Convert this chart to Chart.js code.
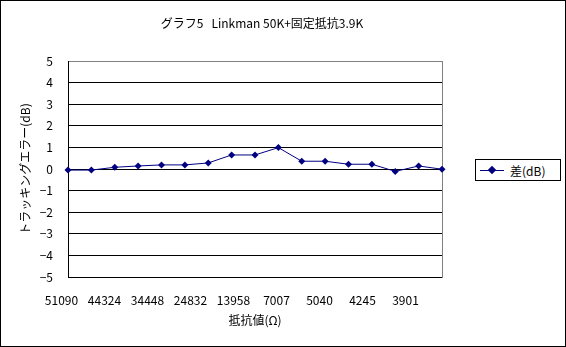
<!DOCTYPE html>
<html lang="ja">
<head>
    <meta charset="UTF-8">
    <title>グラフ5 Linkman 50K+固定抵抗3.9K</title>
    <script src="https://cdn.jsdelivr.net/npm/chart.js@4.4.0/dist/chart.umd.min.js"></script>
    <style>
        * { margin: 0; padding: 0; box-sizing: border-box; }
        body { background: #fff; font-family: 'Noto Sans CJK JP', sans-serif; }
        .wrap { position: relative; width: 566px; height: 347px; background: #fff; }
        .frame {
            position: absolute; left: 0; top: 0; width: 566px; height: 347px;
            border: 1px solid #000; pointer-events: none;
        }
        .legend {
            position: absolute; left: 475px; top: 159px; width: 86px; height: 22px;
            border: 1px solid #000; background: #fff;
            display: flex; align-items: center; font-size: 12px; color: #000;
        }
        .legend .sym { position: relative; width: 24px; height: 10px; margin-left: 4px; margin-right: 6px; }
        .legend .sym .ln { position: absolute; left: 0; right: 0; top: 5px; height: 1px; background: #000080; }
        .legend .sym .dm {
            position: absolute; left: 9px; top: 2px; width: 6px; height: 6px;
            background: #000080; transform: rotate(45deg);
        }
    </style>
</head>
<body>
<div class="wrap">
    <canvas id="chart" width="566" height="347"></canvas>
    <div class="legend"><div class="sym"><div class="ln"></div><div class="dm"></div></div><span id="legendText"></span></div>
    <div class="frame"></div>
</div>
<script>
    // data
    const seriesName = '差(dB)';
    const xTickLabels = ['51090', '44324', '34448', '24832', '13958', '7007', '5040', '4245', '3901'];
    const diffValues = [-0.05, -0.05, 0.08, 0.14, 0.19, 0.19, 0.28, 0.65, 0.65, 0.99, 0.36, 0.36, 0.22, 0.22, -0.11, 0.14, -0.01];
    const categories = diffValues.map((_, i) => i % 2 === 0 ? xTickLabels[i / 2] : '');

    document.getElementById('legendText').textContent = seriesName;

    const font = { family: "'Noto Sans CJK JP', sans-serif", size: 12, weight: 'normal' };

    // title centred a bit left of the canvas middle, like the original
    const titleShift = {
        id: 'titleShift',
        afterLayout(chart) {
            chart.titleBlock.left = 0;
            chart.titleBlock.right = chart.width - 42;
        }
    };

    new Chart(document.getElementById('chart'), {
        type: 'line',
        data: {
            labels: categories,
            datasets: [{
                label: seriesName,
                data: diffValues,
                borderColor: '#000080',
                backgroundColor: '#000080',
                borderWidth: 1,
                pointStyle: 'rectRot',
                pointRadius: 3.5,
                pointBorderWidth: 0,
                tension: 0,
                fill: false
            }]
        },
        options: {
            responsive: false,
            animation: false,
            layout: { padding: { left: 0, right: 124, top: 0, bottom: 0 } },
            plugins: {
                legend: { display: false },
                tooltip: { enabled: false },
                title: {
                    display: true,
                    text: 'グラフ5   Linkman 50K+固定抵抗3.9K',
                    color: '#000',
                    font: font,
                    padding: { top: 16, bottom: 30.6 }
                }
            },
            scales: {
                x: {
                    type: 'category',
                    offset: false,
                    ticks: { display: false },
                    grid: { display: false, drawTicks: false },
                    border: { display: true, color: '#000', width: 1 },
                    afterFit(scale) { scale.height = 0; }
                },
                xt: {
                    type: 'linear',
                    position: 'bottom',
                    min: 0.151,
                    max: 8.849,
                    afterBuildTicks(scale) {
                        scale.ticks = xTickLabels.map((_, i) => ({ value: i }));
                    },
                    ticks: {
                        autoSkip: false,
                        maxRotation: 0,
                        padding: 16,
                        color: '#000',
                        font: font,
                        callback: v => xTickLabels[v]
                    },
                    grid: { display: false, drawTicks: false },
                    border: { display: false },
                    title: {
                        display: true,
                        text: '抵抗値(Ω)',
                        color: '#000',
                        font: font,
                        padding: { top: 0, bottom: 19 }
                    },
                    afterFit(scale) { scale.height = 70; }
                },
                y: {
                    min: -5,
                    max: 5,
                    ticks: {
                        stepSize: 1,
                        padding: 15,
                        color: '#000',
                        font: font,
                        callback: v => v < 0 ? '−' + Math.abs(v) : String(v)
                    },
                    grid: {
                        drawTicks: false,
                        color: ctx => ctx.tick && ctx.tick.value === 5 ? '#808080' : '#000',
                        lineWidth: 1
                    },
                    border: { display: true, color: '#000', width: 1 },
                    title: {
                        display: true,
                        text: 'トラッキングエラー(dB)',
                        color: '#000',
                        font: font,
                        padding: { top: 18, bottom: 0 }
                    },
                    afterFit(scale) { scale.width = 68; }
                },
                yr: {
                    position: 'right',
                    min: -5,
                    max: 5,
                    ticks: { display: false },
                    grid: { display: false, drawTicks: false },
                    border: { display: true, color: '#808080', width: 1 },
                    afterFit(scale) { scale.width = 0; }
                }
            }
        },
        plugins: [titleShift]
    });
</script>
</body>
</html>
